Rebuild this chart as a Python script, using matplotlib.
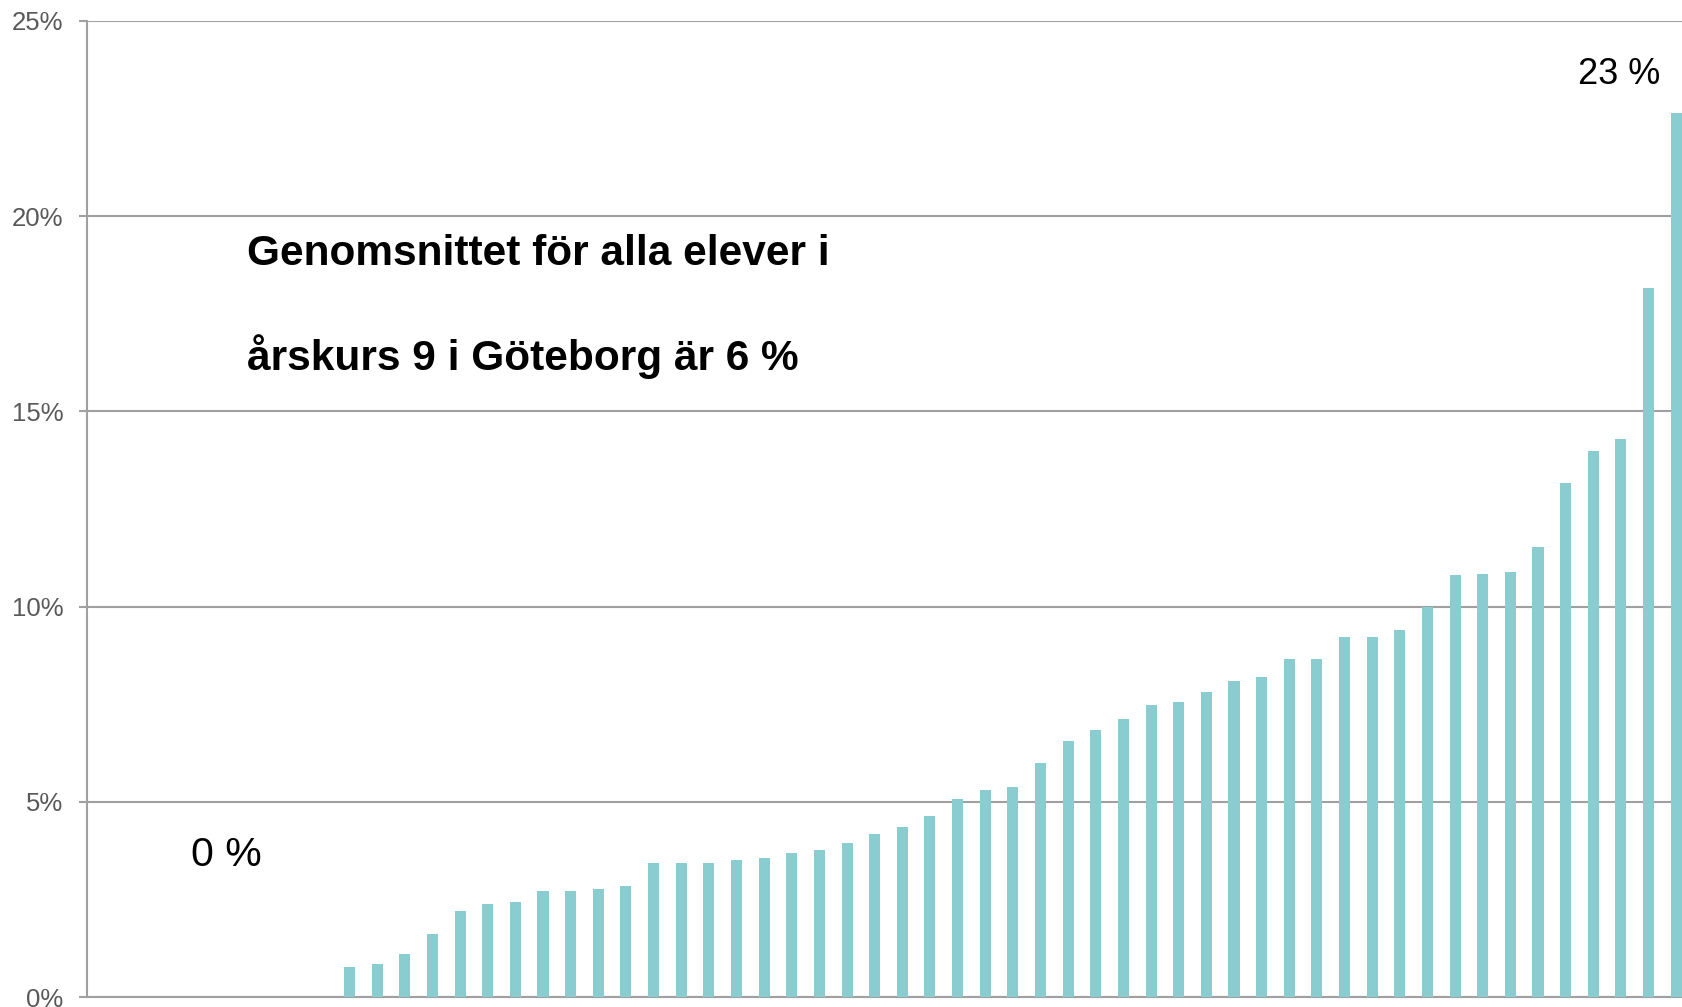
import matplotlib
matplotlib.use("Agg")
import matplotlib.pyplot as plt
import numpy as np

plt.rcParams['font.family'] = ['Liberation Sans', 'DejaVu Sans']

# Share of pupils per school, sorted ascending (percent)
zero_schools = [0.0] * 9
school_shares = [
    0.77, 0.85, 1.10, 1.62, 2.20, 2.39, 2.45, 2.72, 2.72, 2.77,
    2.86, 3.44, 3.44, 3.44, 3.52, 3.56, 3.70, 3.77, 3.94, 4.17,
    4.35, 4.65, 5.07, 5.30, 5.38, 6.01, 6.57, 6.83, 7.13, 7.49,
    7.57, 7.82, 8.09, 8.21, 8.67, 8.67, 9.22, 9.23, 9.39, 10.0,
    10.80, 10.83, 10.90, 11.53, 13.16, 13.98, 14.28, 18.16, 22.65,
]
values = np.array(zero_schools + school_shares)
y_ticks = [0, 5, 10, 15, 20, 25]
note_lines = ["Genomsnittet för alla elever i", "årskurs 9 i Göteborg är 6 %"]

bar_color = '#89CDD0'
grid_color = '#A0A0A0'

fig = plt.figure(figsize=(16.83, 10.07), dpi=100)
ax = fig.add_axes([87 / 1683, 9.7 / 1007, 1603 / 1683, 976.6 / 1007])

x = np.arange(len(values))
ax.bar(x, values, width=0.4, color=bar_color, zorder=3)

ax.set_xlim(-0.5, len(values) - 0.5)
ax.set_ylim(0, 25)
ax.set_yticks(y_ticks)
ax.set_yticklabels([f"{t}%" for t in y_ticks])
ax.set_xticks([])

ax.yaxis.grid(True, color=grid_color, linewidth=1.5, zorder=0)
ax.tick_params(axis='y', length=6, width=1.5, color=grid_color,
               labelsize=18.5, labelcolor='#595959', pad=11)
for side in ['top', 'right']:
    ax.spines[side].set_visible(False)
for side in ['left', 'bottom']:
    ax.spines[side].set_color(grid_color)
    ax.spines[side].set_linewidth(1.5)

# Min / max labels
ax.text(4.55, 3.64, f"{values.min():.0f} %", fontsize=29.5,
        ha='center', va='center', color='black')
ax.text(54.93, 23.63, f"{values.max():.0f} %", fontsize=26,
        ha='center', va='center', color='black')

# Note about the city-wide average
ax.text(5.29, 19.02, note_lines[0], fontsize=30.5, fontweight='bold',
        ha='left', va='center', color='black')
ax.text(5.29, 16.4, note_lines[1], fontsize=30.5, fontweight='bold',
        ha='left', va='center', color='black')

fig.savefig('out.png', dpi=100)
